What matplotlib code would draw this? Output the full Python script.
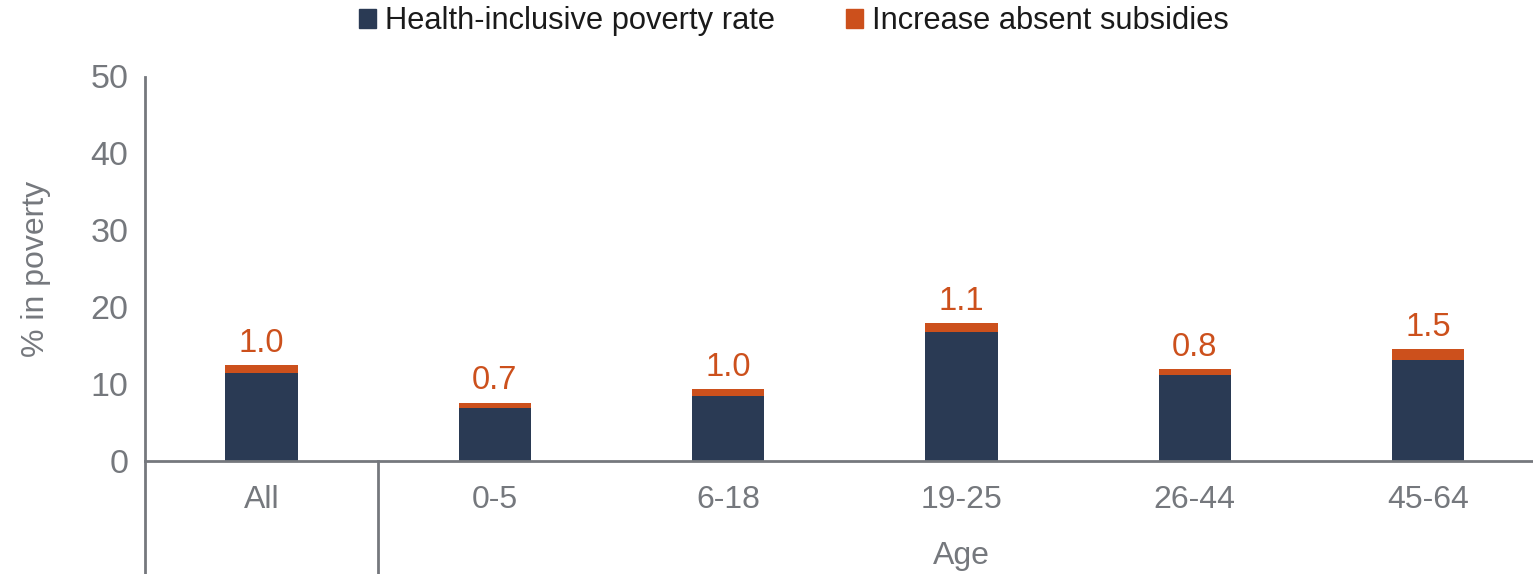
import matplotlib
matplotlib.use('Agg')
import matplotlib.pyplot as plt
from matplotlib.patches import Patch
import numpy as np

plt.rcParams['font.family'] = ['Liberation Sans', 'DejaVu Sans']

categories = ['All', '0-5', '6-18', '19-25', '26-44', '45-64']
base_rate = [11.5, 6.9, 8.4, 16.8, 11.2, 13.1]
increase = [1.0, 0.7, 1.0, 1.1, 0.8, 1.5]
yticks = [0, 10, 20, 30, 40, 50]

navy = '#2A3A54'
orange = '#CC501C'
grey = '#75787D'

fig = plt.figure(figsize=(15.33, 5.74), dpi=100)
ax = fig.add_axes([145/1533, 1-461/574, 1-145/1533, (461-76.5)/574])

x = np.arange(len(categories))
w = 0.31
ax.bar(x, base_rate, w, color=navy, zorder=2)
ax.bar(x, increase, w, bottom=base_rate, color=orange, zorder=2)

for xi, b, inc in zip(x, base_rate, increase):
    ax.text(xi, b + inc + 0.8, f'{inc:.1f}', ha='center', va='bottom',
            fontsize=23.5, color=orange)

ax.set_xlim(-0.5, 5.45)
ax.set_ylim(0, 50)
ax.set_yticks(yticks)
ax.set_xticks(x)
ax.set_xticklabels(categories)
ax.tick_params(axis='both', length=0, colors=grey)
ax.tick_params(axis='x', pad=17, labelsize=23)
ax.tick_params(axis='y', pad=12, labelsize=24.5)
for s in ['top', 'right']:
    ax.spines[s].set_visible(False)
for s in ['left', 'bottom']:
    ax.spines[s].set_color(grey)
    ax.spines[s].set_linewidth(2)

ax.set_ylabel('% in poverty', fontsize=23, color=grey, labelpad=28)

# category group separators below axis
trans = ax.get_xaxis_transform()
for xs in [-0.5, 0.5]:
    ax.plot([xs, xs], [0, -113/384.5], transform=trans, color=grey,
            lw=2, clip_on=False)
ax.text(3, -95/384.5, 'Age', transform=trans, ha='center', va='center',
        fontsize=23, color=grey)

handles = [Patch(color=navy), Patch(color=orange)]
fig.legend(handles, ['Health-inclusive poverty rate', 'Increase absent subsidies'],
           loc='center', bbox_to_anchor=(0.518, 0.963), ncol=2, frameon=False,
           fontsize=22.2, handlelength=0.55, handleheight=0.55, handletextpad=0.3,
           columnspacing=2.3, labelcolor='#1a1a1a')

fig.savefig('out.png', dpi=100)
